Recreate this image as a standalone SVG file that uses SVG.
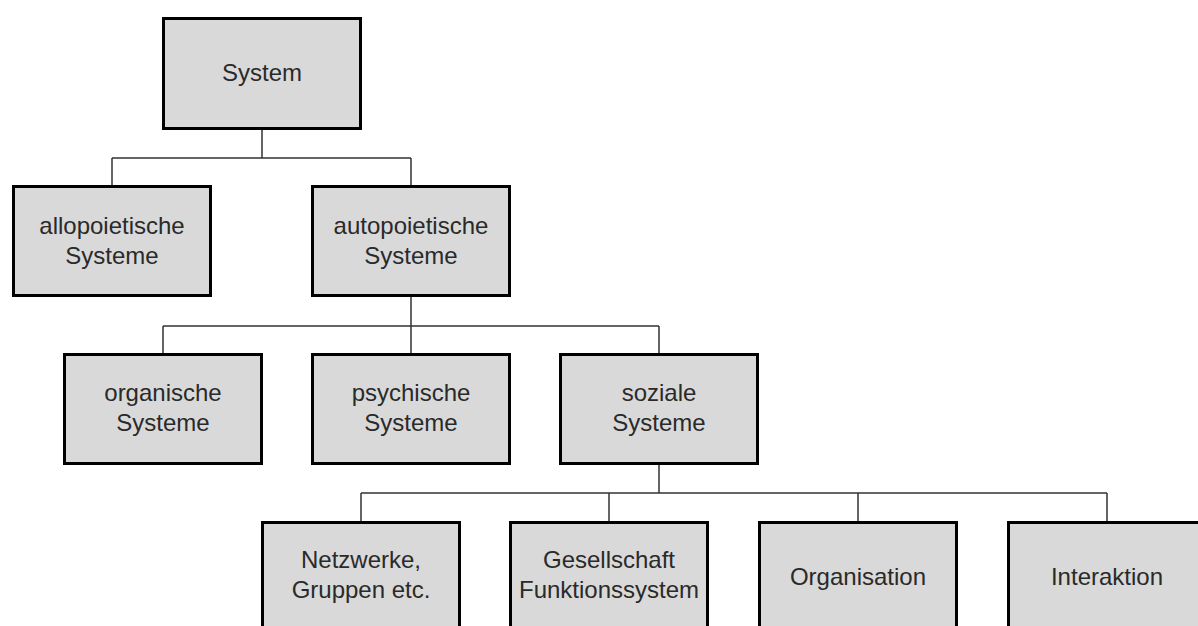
<svg xmlns="http://www.w3.org/2000/svg" width="1198" height="626" viewBox="0 0 1198 626">
<style>
.box{fill:#d9d9d9;stroke:#000;stroke-width:3}
.t{font-family:"Liberation Sans",Arial,sans-serif;font-size:24px;fill:#2a2a2a;text-anchor:middle}
.c{fill:none;stroke:#333;stroke-width:1.5}
</style>
<rect width="1198" height="626" fill="#fff"/>
<g id="connectors">
<path class="c" d="M262 130V158M112 158H411M112 158V185M411 158V185"/>
<path class="c" d="M411 297V326M163 326H659M163 326V353M411 326V353M659 326V353"/>
<path class="c" d="M659 465V493M361 493H1107M361 493V521M609 493V521M858 493V521M1107 493V521"/>
</g>
<g id="system"><rect class="box" x="163.5" y="18.5" width="197" height="110"/><text class="t" x="262" y="81">System</text></g>
<g id="allopoietische"><rect class="box" x="13.5" y="186.5" width="197" height="109"/><text class="t" x="112" y="234">allopoietische</text><text class="t" x="112" y="264">Systeme</text></g>
<g id="autopoietische"><rect class="box" x="312.5" y="186.5" width="197" height="109"/><text class="t" x="411" y="234">autopoietische</text><text class="t" x="411" y="264">Systeme</text></g>
<g id="organische"><rect class="box" x="64.5" y="354.5" width="197" height="109"/><text class="t" x="163" y="401">organische</text><text class="t" x="163" y="431">Systeme</text></g>
<g id="psychische"><rect class="box" x="312.5" y="354.5" width="197" height="109"/><text class="t" x="411" y="401">psychische</text><text class="t" x="411" y="431">Systeme</text></g>
<g id="soziale"><rect class="box" x="560.5" y="354.5" width="197" height="109"/><text class="t" x="659" y="401">soziale</text><text class="t" x="659" y="431">Systeme</text></g>
<g id="netzwerke"><rect class="box" x="262.5" y="522.5" width="197" height="109"/><text class="t" x="361" y="568">Netzwerke,</text><text class="t" x="361" y="598">Gruppen etc.</text></g>
<g id="gesellschaft"><rect class="box" x="510.5" y="522.5" width="197" height="109"/><text class="t" x="609" y="568">Gesellschaft</text><text class="t" x="609" y="598">Funktionssystem</text></g>
<g id="organisation"><rect class="box" x="759.5" y="522.5" width="197" height="109"/><text class="t" x="858" y="585">Organisation</text></g>
<g id="interaktion"><rect class="box" x="1008.5" y="522.5" width="197" height="109"/><text class="t" x="1107" y="585">Interaktion</text></g>
</svg>
